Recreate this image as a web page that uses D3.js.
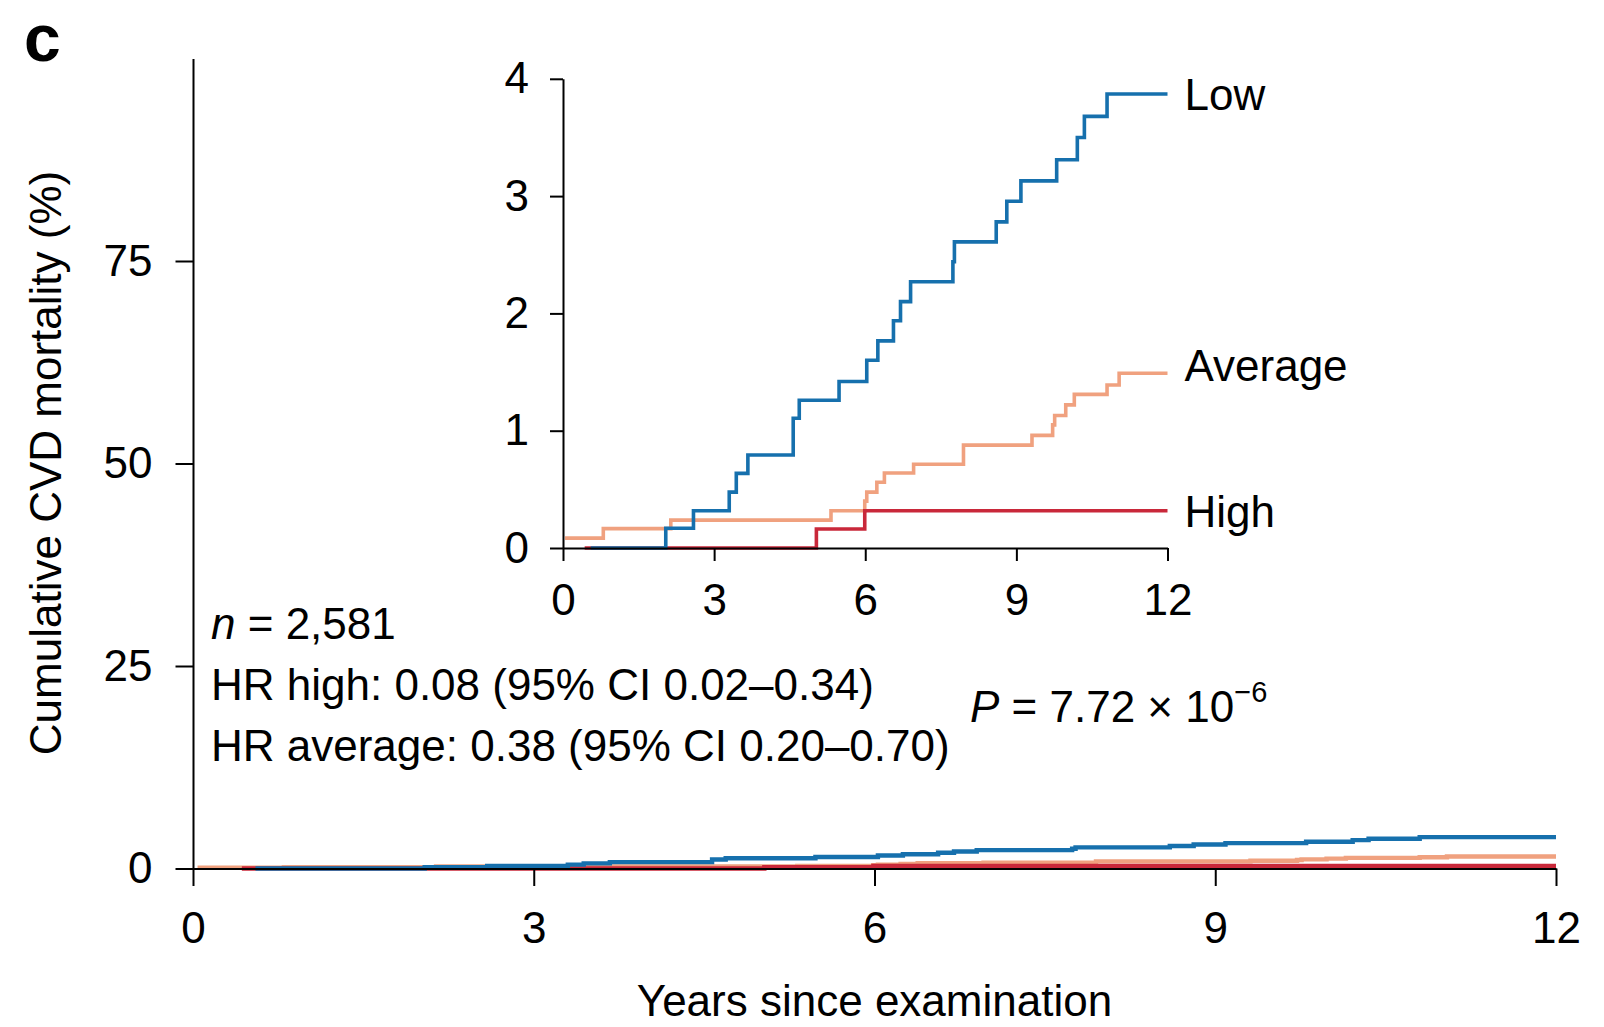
<!DOCTYPE html>
<html>
<head>
<meta charset="utf-8">
<script src="https://cdn.jsdelivr.net/npm/d3@7"></script>
<style>
  html, body { margin: 0; padding: 0; background: #fff; }
  svg { display: block; }
  text { font-family: "Liberation Sans", Arial, Helvetica, sans-serif; fill: #000; }
</style>
</head>
<body>
<svg id="chart" width="1604" height="1027"></svg>
<script>
// ---------- data (years since examination, cumulative CVD mortality %) ----------
const endYear = 12;
const groups = ["Low", "Average", "High"];

const lowTimes  = [0.55, 2.04, 2.59, 3.30, 3.44, 3.67, 4.57, 4.69, 5.48, 6.03, 6.25, 6.56, 6.70, 6.90, 7.74, 7.77, 8.60, 8.81, 9.09, 9.80, 10.21, 10.35, 10.80];
const lowValues = [0, 0.168, 0.317, 0.476, 0.636, 0.793, 1.106, 1.26, 1.42, 1.60, 1.766, 1.937, 2.10, 2.27, 2.44, 2.61, 2.78, 2.956, 3.13, 3.31, 3.50, 3.68, 3.87];

const averageTimes  = [0.04, 0.80, 2.14, 5.32, 5.99, 6.03, 6.23, 6.38, 6.96, 7.95, 9.31, 9.72, 9.76, 9.98, 10.15, 10.80, 11.04];
const averageValues = [0.084, 0.165, 0.238, 0.317, 0.40, 0.476, 0.56, 0.64, 0.714, 0.877, 0.96, 1.05, 1.13, 1.22, 1.31, 1.39, 1.49];

const highTimes  = [0.43, 5.03, 5.99];
const highValues = [0, 0.162, 0.317];

const xTicks = [0, 3, 6, 9, 12];
const mainYTicks = [0, 25, 50, 75];
const insetYTicks = [0, 1, 2, 3, 4];

const annotations = [
  "n = 2,581",
  "HR high: 0.08 (95% CI 0.02\u20130.34)",
  "HR average: 0.38 (95% CI 0.20\u20130.70)"
];

// ---------- styles / layout ----------
const colors = { Low: "#1670ad", Average: "#f0a17f", High: "#c9283a" };
const labelShift = { Low: 0, Average: -8, High: 0 };
const FS = 44;

const series = [
  { name: "Average", times: averageTimes, values: averageValues },
  { name: "High",    times: highTimes,    values: highValues },
  { name: "Low",     times: lowTimes,     values: lowValues }
].map(s => {
  const pts = s.times.map((t, i) => [t, s.values[i]]);
  pts.push([endYear, s.values[s.values.length - 1]]);
  return { name: s.name, pts };
});

const svg = d3.select("#chart");

// ---------- main chart ----------
const mx = d3.scaleLinear().domain([0, 12]).range([193, 1556]);
const my = d3.scaleLinear().domain([0, 100]).range([868.5, 58.5]);

function styleAxis(g, fs) {
  g.select(".domain").attr("stroke", "#000").attr("stroke-width", 2);
  g.selectAll(".tick line").attr("stroke", "#000").attr("stroke-width", 2);
  g.selectAll(".tick text")
    .attr("font-size", fs)
    .attr("font-family", '"Liberation Sans", Arial, sans-serif')
    .attr("fill", "#000");
}

const mainLine = d3.line().curve(d3.curveStepAfter).x(d => mx(d[0])).y(d => my(d[1]));
svg.append("g").selectAll("path").data(series).join("path")
  .attr("d", d => mainLine(d.pts))
  .attr("fill", "none")
  .attr("stroke", d => colors[d.name])
  .attr("stroke-width", 4.4);

const mainX = svg.append("g")
  .attr("transform", `translate(0,${my(0)})`)
  .call(d3.axisBottom(mx).tickValues(xTicks).tickSize(17.5).tickPadding(26).tickSizeOuter(0).tickFormat(d3.format("d")));
styleAxis(mainX, FS);

const mainY = svg.append("g")
  .attr("transform", `translate(${mx(0)},0)`)
  .call(d3.axisLeft(my).tickValues(mainYTicks).tickSize(17.5).tickPadding(23).tickSizeOuter(0).tickFormat(d3.format("d")));
styleAxis(mainY, FS);

svg.append("text")
  .attr("x", (mx(0) + mx(12)) / 2).attr("y", 1016)
  .attr("text-anchor", "middle").attr("font-size", FS)
  .text("Years since examination");

svg.append("text")
  .attr("transform", `translate(61,463) rotate(-90)`)
  .attr("text-anchor", "middle").attr("font-size", FS)
  .text("Cumulative CVD mortality (%)");

svg.append("text")
  .attr("x", 24).attr("y", 61).attr("font-size", 66).attr("font-weight", "bold")
  .text("c");

// annotations
const annY = [639, 700, 761];
annotations.forEach((t, i) => {
  const txt = svg.append("text").attr("x", 211).attr("y", annY[i]).attr("font-size", FS);
  if (i === 0) {
    txt.append("tspan").attr("font-style", "italic").text("n");
    txt.append("tspan").text(t.slice(1));
  } else {
    txt.text(t);
  }
});

const pTxt = svg.append("text").attr("x", 970).attr("y", 721.5).attr("font-size", FS);
pTxt.append("tspan").attr("font-style", "italic").text("P");
pTxt.append("tspan").text(" = 7.72 \u00d7 10");
pTxt.append("tspan").attr("font-size", 29).attr("dy", -20).text("\u22126");

// ---------- inset ----------
const ix = d3.scaleLinear().domain([0, 12]).range([563, 1167.5]);
const iy = d3.scaleLinear().domain([0, 4]).range([548, 78.8]);

const insetLine = d3.line().curve(d3.curveStepAfter).x(d => ix(d[0])).y(d => iy(d[1]));
svg.append("g").selectAll("path").data(series).join("path")
  .attr("d", d => insetLine(d.pts))
  .attr("fill", "none")
  .attr("stroke", d => colors[d.name])
  .attr("stroke-width", 3.6);

const insetX = svg.append("g")
  .attr("transform", `translate(0,${iy(0)})`)
  .call(d3.axisBottom(ix).tickValues(xTicks).tickSize(13).tickPadding(23).tickSizeOuter(0).tickFormat(d3.format("d")));
styleAxis(insetX, FS);

const insetY = svg.append("g")
  .attr("transform", `translate(${ix(0)},0)`)
  .call(d3.axisLeft(iy).tickValues(insetYTicks).tickSize(13).tickPadding(21).tickSizeOuter(0).tickFormat(d3.format("d")));
styleAxis(insetY, FS);

// group labels at line ends
series.forEach(s => {
  const last = s.pts[s.pts.length - 1];
  svg.append("text")
    .attr("x", ix(endYear) + 17)
    .attr("y", iy(last[1]) + labelShift[s.name])
    .attr("dy", "0.36em")
    .attr("font-size", FS)
    .text(s.name);
});
</script>
</body>
</html>
